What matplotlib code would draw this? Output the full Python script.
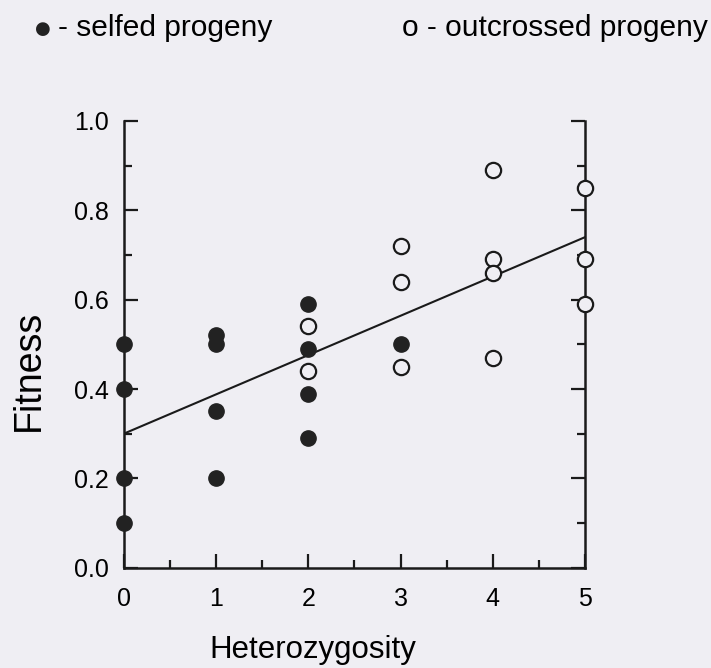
import matplotlib.pyplot as plt
from matplotlib.ticker import MultipleLocator

# Selfed progeny (filled circles)
SELF_X = [0, 0, 0, 0, 1, 1, 1, 1, 2, 2, 2, 2, 3]
SELF_Y = [0.50, 0.40, 0.20, 0.10, 0.52, 0.50, 0.35, 0.20, 0.59, 0.49, 0.39, 0.29, 0.50]

# Outcrossed progeny (open circles)
OUT_X = [2, 2, 3, 3, 3, 4, 4, 4, 4, 5, 5, 5]
OUT_Y = [0.54, 0.44, 0.72, 0.64, 0.45, 0.89, 0.69, 0.66, 0.47, 0.85, 0.69, 0.59]

# Regression line end points
FIT_X = [0, 5]
FIT_Y = [0.30, 0.74]

BG = "#efeef3"

plt.rcParams["font.family"] = ["Liberation Sans", "DejaVu Sans"]

fig = plt.figure(figsize=(7.11, 6.68), dpi=100, facecolor=BG)
ax = fig.add_axes([0.174, 0.150, 0.649, 0.669], facecolor=BG)

ax.plot(FIT_X, FIT_Y, color="#1a1a1a", lw=1.5, zorder=2)
ax.plot(SELF_X, SELF_Y, "o", ms=11, mfc="#222222", mec="#222222",
        clip_on=False, zorder=3)
ax.plot(OUT_X, OUT_Y, "o", ms=11, mfc=BG, mec="#1a1a1a", mew=1.6,
        clip_on=False, zorder=3)

ax.set_xlim(0, 5)
ax.set_ylim(0, 1.0)
ax.spines["top"].set_visible(False)
for s in ("left", "right", "bottom"):
    ax.spines[s].set_linewidth(1.8)
    ax.spines[s].set_color("#1a1a1a")

ax.xaxis.set_major_locator(MultipleLocator(1))
ax.xaxis.set_minor_locator(MultipleLocator(0.5))
ax.yaxis.set_major_locator(MultipleLocator(0.2))
ax.yaxis.set_minor_locator(MultipleLocator(0.1))
ax.yaxis.set_major_formatter(lambda v, p: f"{v:.1f}")

ax.tick_params(which="both", direction="in", right=True, top=False,
               color="#1a1a1a", width=1.6)
ax.tick_params(which="major", length=10, labelsize=18)
ax.tick_params(axis="x", which="major", pad=14)
ax.tick_params(axis="y", which="major", pad=11)
ax.tick_params(which="minor", length=5.5)

fig.text(0.04, 0.445, "Fitness", rotation=90, fontsize=27,
         ha="center", va="center")
fig.text(0.44, 0.027, "Heterozygosity", fontsize=22.5, ha="center",
         va="center")

# legend written as plain text, like the original figure
fig.text(0.060, 0.957, "\u25cf", fontsize=13, family="DejaVu Sans",
         color="#222222", ha="center", va="center")
fig.text(0.082, 0.958, "- selfed progeny", fontsize=21.5,
         ha="left", va="center")
fig.text(0.996, 0.958, "o - outcrossed progeny", fontsize=21.5,
         ha="right", va="center")

fig.savefig("out.png", dpi=100, facecolor=BG)
